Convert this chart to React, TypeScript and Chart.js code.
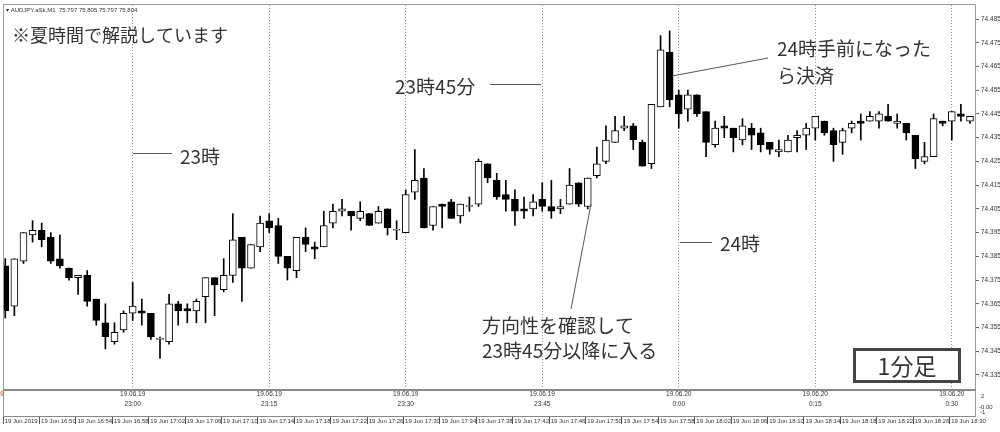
import React, { useEffect, useRef } from "react";
import { Chart, registerables } from "chart.js";

Chart.register(...registerables);

// ---- Data (AUDJPY M1, 22:46 – 0:32) ----
const opens = [
  74.381, 74.364, 74.383, 74.394, 74.396, 74.393, 74.384, 74.380, 74.376, 74.377,
  74.367, 74.357, 74.349, 74.354, 74.361, 74.362, 74.361, 74.350, 74.349, 74.365,
  74.363, 74.362, 74.368, 74.376, 74.371, 74.377, 74.393, 74.380, 74.389, 74.400,
  74.398, 74.385, 74.379, 74.393, 74.389, 74.389, 74.399, 74.404, 74.404, 74.401,
  74.403, 74.399, 74.405, 74.396, 74.395, 74.412, 74.418, 74.398, 74.407, 74.408,
  74.402, 74.406, 74.407, 74.424, 74.417, 74.411, 74.409, 74.405, 74.405, 74.409,
  74.406, 74.405, 74.407, 74.416, 74.406, 74.419, 74.425, 74.433, 74.439, 74.440,
  74.433, 74.424, 74.448, 74.471, 74.453, 74.447, 74.453, 74.446, 74.432, 74.440,
  74.439, 74.434, 74.439, 74.437, 74.433, 74.429, 74.429, 74.435, 74.436, 74.439,
  74.442, 74.438, 74.433, 74.439, 74.442, 74.442, 74.442, 74.444, 74.441, 74.441,
  74.436, 74.425, 74.427, 74.442, 74.442, 74.445, 74.442,
];
const highs = [
  74.384, 74.384, 74.395, 74.400, 74.399, 74.395, 74.394, 74.380, 74.377, 74.379,
  74.367, 74.365, 74.357, 74.362, 74.374, 74.367, 74.361, 74.351, 74.369, 74.366,
  74.365, 74.367, 74.376, 74.376, 74.384, 74.403, 74.393, 74.390, 74.402, 74.403,
  74.401, 74.385, 74.393, 74.397, 74.391, 74.404, 74.407, 74.409, 74.404, 74.408,
  74.403, 74.406, 74.405, 74.400, 74.413, 74.430, 74.422, 74.406, 74.407, 74.409,
  74.407, 74.410, 74.426, 74.424, 74.420, 74.417, 74.413, 74.410, 74.411, 74.416,
  74.417, 74.409, 74.422, 74.416, 74.418, 74.431, 74.440, 74.444, 74.444, 74.441,
  74.434, 74.449, 74.478, 74.480, 74.455, 74.455, 74.453, 74.446, 74.442, 74.444,
  74.439, 74.443, 74.441, 74.439, 74.433, 74.434, 74.436, 74.438, 74.441, 74.444,
  74.442, 74.439, 74.439, 74.442, 74.445, 74.446, 74.446, 74.449, 74.445, 74.441,
  74.436, 74.433, 74.445, 74.442, 74.446, 74.449, 74.444,
];
const lows = [
  74.359, 74.360, 74.382, 74.391, 74.389, 74.382, 74.380, 74.375, 74.369, 74.364,
  74.356, 74.346, 74.348, 74.353, 74.358, 74.356, 74.350, 74.342, 74.348, 74.356,
  74.357, 74.357, 74.357, 74.360, 74.370, 74.374, 74.366, 74.380, 74.387, 74.395,
  74.382, 74.375, 74.376, 74.387, 74.384, 74.389, 74.397, 74.402, 74.396, 74.400,
  74.398, 74.399, 74.394, 74.392, 74.395, 74.409, 74.397, 74.396, 74.397, 74.401,
  74.399, 74.404, 74.406, 74.416, 74.409, 74.404, 74.398, 74.401, 74.402, 74.404,
  74.401, 74.403, 74.407, 74.406, 74.405, 74.418, 74.424, 74.433, 74.438, 74.430,
  74.423, 74.422, 74.448, 74.448, 74.439, 74.442, 74.444, 74.427, 74.431, 74.435,
  74.429, 74.432, 74.430, 74.429, 74.428, 74.427, 74.429, 74.429, 74.430, 74.434,
  74.436, 74.425, 74.428, 74.437, 74.434, 74.442, 74.439, 74.442, 74.439, 74.434,
  74.422, 74.424, 74.427, 74.440, 74.434, 74.442, 74.441,
];
const closes = [
  74.362, 74.384, 74.395, 74.396, 74.392, 74.383, 74.381, 74.376, 74.377, 74.366,
  74.358, 74.351, 74.353, 74.361, 74.364, 74.361, 74.351, 74.350, 74.365, 74.362,
  74.362, 74.366, 74.376, 74.373, 74.377, 74.392, 74.380, 74.390, 74.399, 74.397,
  74.385, 74.380, 74.393, 74.390, 74.388, 74.398, 74.404, 74.405, 74.402, 74.404,
  74.398, 74.404, 74.397, 74.396, 74.411, 74.417, 74.397, 74.406, 74.406, 74.401,
  74.407, 74.406, 74.425, 74.418, 74.410, 74.409, 74.404, 74.404, 74.408, 74.406,
  74.404, 74.406, 74.415, 74.407, 74.418, 74.424, 74.434, 74.438, 74.440, 74.434,
  74.423, 74.449, 74.472, 74.451, 74.445, 74.453, 74.445, 74.433, 74.439, 74.439,
  74.435, 74.440, 74.436, 74.432, 74.430, 74.430, 74.434, 74.436, 74.439, 74.444,
  74.437, 74.432, 74.438, 74.441, 74.441, 74.444, 74.445, 74.442, 74.442, 74.437,
  74.426, 74.427, 74.443, 74.441, 74.446, 74.444, 74.444,
];

const sessionTicks = [14, 29, 44, 59, 74, 89, 104];
const sessionDates = ["19.06.19", "19.06.19", "19.06.19", "19.06.19", "19.06.20", "19.06.20", "19.06.20"];
const sessionTimes = ["23:00", "23:15", "23:30", "23:45", "0:00", "0:15", "0:30"];

const priceTicks = [
  74.335, 74.345, 74.355, 74.365, 74.375, 74.385, 74.395, 74.405,
  74.415, 74.425, 74.435, 74.445, 74.455, 74.465, 74.475, 74.485,
];

const serverTimeLabels = [
  "19 Jun 2019", "19 Jun 16:50", "19 Jun 16:54", "19 Jun 16:58", "19 Jun 17:02",
  "19 Jun 17:06", "19 Jun 17:10", "19 Jun 17:14", "19 Jun 17:18", "19 Jun 17:22",
  "19 Jun 17:26", "19 Jun 17:30", "19 Jun 17:34", "19 Jun 17:38", "19 Jun 17:42",
  "19 Jun 17:46", "19 Jun 17:50", "19 Jun 17:54", "19 Jun 17:58", "19 Jun 18:02",
  "19 Jun 18:06", "19 Jun 18:10", "19 Jun 18:14", "19 Jun 18:18", "19 Jun 18:22",
  "19 Jun 18:26", "19 Jun 18:30",
];

const X_MIN = -0.25;
const X_MAX = 106.55;
const SMALL = "Liberation Sans";
const JP = '"Noto Sans CJK JP", "Noto Sans CJK SC", sans-serif';

const overlayPlugin = {
  id: "overlay",
  afterDraw(chart: any) {
    const ctx = chart.ctx as CanvasRenderingContext2D;
    const { left, right, top, bottom } = chart.chartArea;
    ctx.save();
    // frames
    ctx.strokeStyle = "#9a9a9a";
    ctx.lineWidth = 1;
    ctx.beginPath();
    ctx.moveTo(left + 0.5, top - 0.5);
    ctx.lineTo(right + 0.5, top - 0.5);
    ctx.moveTo(left + 0.5, top - 0.5);
    ctx.lineTo(left + 0.5, bottom + 27.5);
    ctx.moveTo(right + 0.5, top - 0.5);
    ctx.lineTo(right + 0.5, bottom + 27.5);
    ctx.stroke();
    ctx.strokeStyle = "#8a8a8a";
    ctx.lineWidth = 2;
    ctx.beginPath();
    ctx.moveTo(left, bottom + 1);
    ctx.lineTo(right + 1, bottom + 1);
    ctx.stroke();

    // header text
    ctx.fillStyle = "#333";
    ctx.textBaseline = "middle";
    ctx.textAlign = "left";
    ctx.font = `6px ${SMALL}`;
    ctx.fillText("\u25BE AUDJPY.aSk,M1  75.797 75.805 75.797 75.804", left + 3, top + 5);

    // sub-window scale labels
    ctx.fillText("2", right + 6, bottom + 7);
    ctx.fillText("-0.00", right + 4, bottom + 18);
    ctx.fillText("-1", right + 5, bottom + 23);
    ctx.fillStyle = "#c0501a";
    ctx.font = `6.5px ${SMALL}`;
    ctx.fillText("9", 0, bottom + 5);

    // annotations
    ctx.fillStyle = "#333";
    ctx.strokeStyle = "#555";
    ctx.lineWidth = 1;
    const line = (x1: number, y1: number, x2: number, y2: number) => {
      ctx.beginPath();
      ctx.moveTo(x1, y1);
      ctx.lineTo(x2, y2);
      ctx.stroke();
    };
    ctx.font = `18px ${JP}`;
    ctx.fillText("※夏時間で解説しています", 12, 35);

    ctx.font = `19px ${JP}`;
    line(133, 153.5, 172, 153.5);
    ctx.fillText("23時", 180, 157);
    line(490, 84.5, 541, 84.5);
    ctx.fillText("23時45分", 395, 87);
    line(672, 76, 768, 58);
    ctx.fillText("24時手前になった", 777, 49);
    ctx.fillText("ら決済", 777, 76);
    line(680, 242.5, 712, 242.5);
    ctx.fillText("24時", 720, 244);
    line(591, 204, 571, 309);
    ctx.fillText("方向性を確認して", 482, 326);
    ctx.fillText("23時45分以降に入る", 482, 351);

    // 1分足 box
    ctx.fillStyle = "#fff";
    ctx.fillRect(853, 348, 108, 35);
    ctx.strokeStyle = "#444";
    ctx.lineWidth = 3;
    ctx.strokeRect(854.5, 349.5, 105, 32);
    ctx.fillStyle = "#333";
    ctx.font = `23px ${JP}`;
    ctx.textAlign = "center";
    ctx.fillText("1分足", 907, 366);
    ctx.restore();
  },
};

export default function App() {
  const ref = useRef<HTMLCanvasElement | null>(null);

  useEffect(() => {
    if (!ref.current) return;
    const bodies = opens.map((o, i) => ({
      x: i,
      y: [Math.min(o, closes[i]), Math.max(o, closes[i])],
    }));
    const wicks = highs.map((h, i) => ({ x: i, y: [lows[i], h] }));
    const bodyColors = opens.map((o, i) => (closes[i] >= o ? "#ffffff" : "#000000"));

    const chart = new Chart(ref.current, {
      type: "bar",
      data: {
        datasets: [
          {
            label: "body",
            data: bodies as any,
            backgroundColor: bodyColors,
            borderColor: "#000000",
            borderWidth: 1,
            borderSkipped: false,
            barThickness: 7,
            minBarLength: 1,
            grouped: false,
            order: 1,
          } as any,
          {
            label: "wick",
            data: wicks as any,
            backgroundColor: "#000000",
            borderWidth: 0,
            barThickness: 1,
            grouped: false,
            order: 2,
          } as any,
        ],
      },
      options: {
        animation: false,
        responsive: false,
        devicePixelRatio: 1,
        events: [],
        layout: { padding: { left: 3, top: 5, right: 0, bottom: 0 } },
        plugins: { legend: { display: false }, tooltip: { enabled: false } },
        scales: {
          x: {
            type: "linear",
            position: "bottom",
            min: X_MIN,
            max: X_MAX,
            offset: false,
            weight: 0,
            afterBuildTicks: (s: any) => {
              s.ticks = sessionTicks.map((v) => ({ value: v }));
            },
            afterFit: (s: any) => {
              s.height = 27;
              s.paddingLeft = 0;
              s.paddingRight = 0;
            },
            grid: {
              offset: false,
              drawOnChartArea: true,
              drawTicks: false,
              color: "#8096bb",
              lineWidth: 1,
            },
            border: { display: false, dash: [1, 2] },
            ticks: {
              autoSkip: false,
              maxRotation: 0,
              minRotation: 0,
              padding: 0,
              color: "#333",
              font: { family: SMALL, size: 6.5, lineHeight: "10px" },
              callback: (_v: any, i: number) => [sessionDates[i], sessionTimes[i]],
            },
          } as any,
          x2: {
            type: "linear",
            axis: "x",
            position: "bottom",
            min: X_MIN,
            max: X_MAX,
            offset: false,
            weight: 1,
            afterBuildTicks: (s: any) => {
              s.ticks = serverTimeLabels.map((_l, k) => ({ value: X_MIN + 4 * k }));
            },
            afterFit: (s: any) => {
              s.height = 16;
              s.paddingLeft = 0;
              s.paddingRight = 0;
            },
            grid: {
              offset: false,
              drawOnChartArea: false,
              drawTicks: true,
              tickLength: 8,
              color: "#555",
            },
            border: { display: true, color: "#888" },
            ticks: {
              autoSkip: false,
              maxRotation: 0,
              minRotation: 0,
              align: "start",
              padding: -6,
              color: "#333",
              font: { family: SMALL, size: 6 },
              callback: (_v: any, i: number) => " " + serverTimeLabels[i],
            },
          } as any,
          y: {
            type: "linear",
            position: "right",
            min: 74.3291,
            max: 74.4909,
            afterBuildTicks: (s: any) => {
              s.ticks = priceTicks.map((v) => ({ value: v }));
            },
            afterFit: (s: any) => {
              s.width = 25;
              s.paddingTop = 0;
              s.paddingBottom = 0;
            },
            grid: { drawOnChartArea: false, drawTicks: true, tickLength: 4, color: "#666" },
            border: { display: false },
            ticks: {
              padding: 2,
              color: "#333",
              font: { family: SMALL, size: 6.5 },
              callback: (v: any) => Number(v).toFixed(3),
            },
          } as any,
        },
      },
      plugins: [overlayPlugin],
    });
    return () => chart.destroy();
  }, []);

  return (
    <div style={{ position: "fixed", left: 0, top: 0, width: 1000, height: 432, background: "#fff" }}>
      <canvas ref={ref} width={1000} height={432} style={{ display: "block" }} />
    </div>
  );
}
